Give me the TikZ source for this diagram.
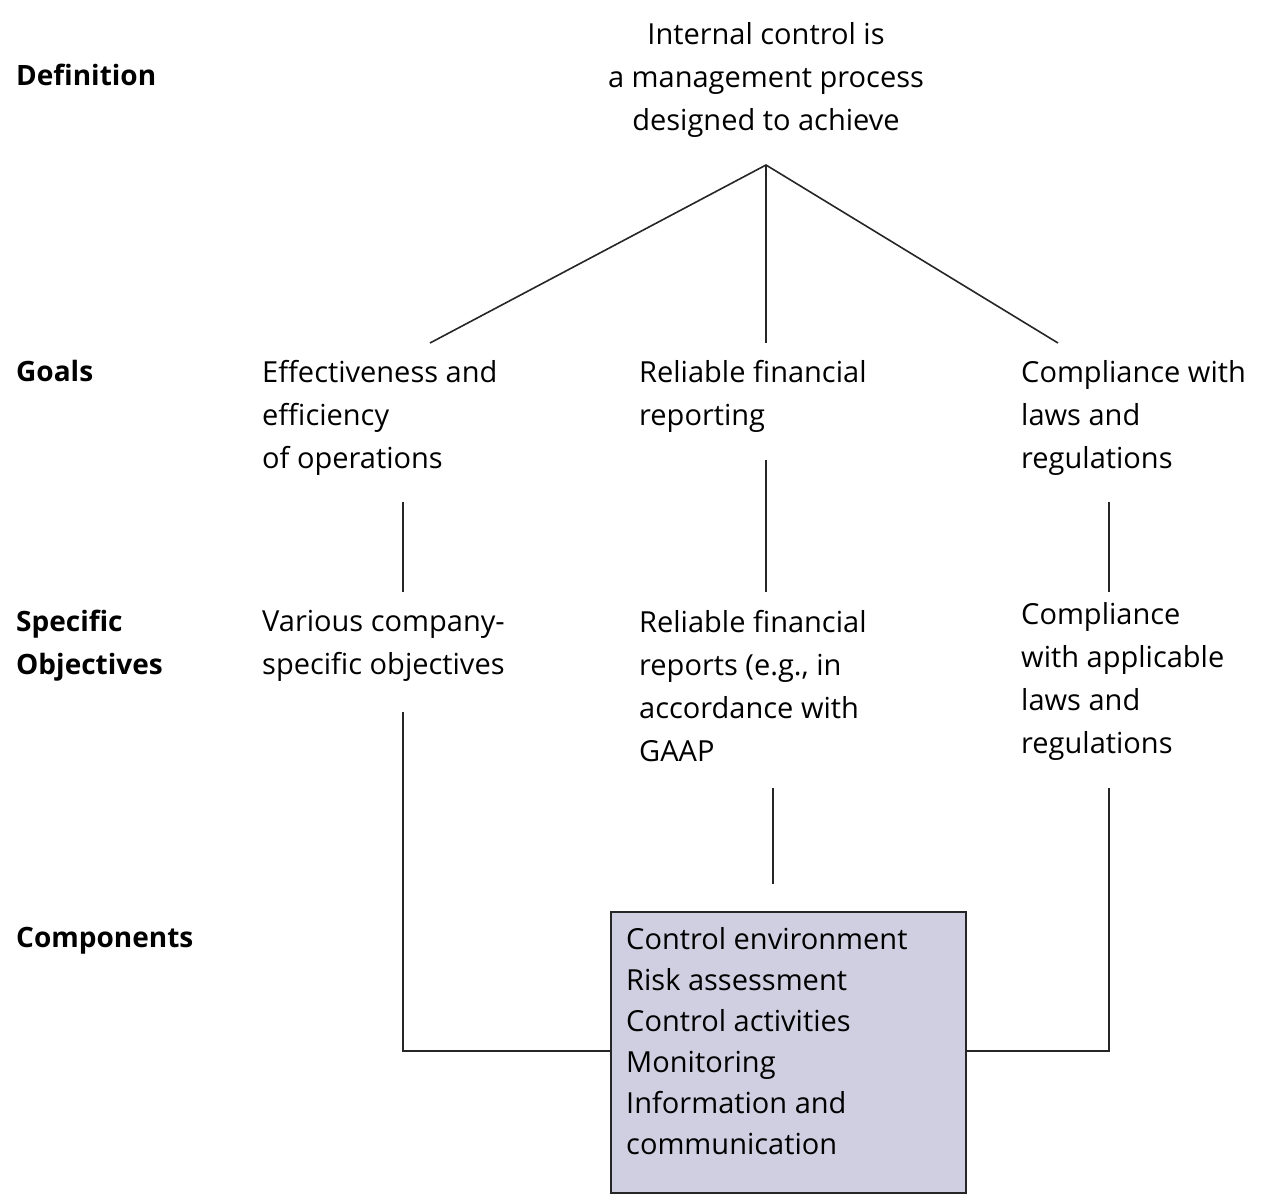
\documentclass[tikz,border=0pt]{standalone}
\usepackage{fontspec}
\setmainfont{Open Sans}
\begin{document}
\begin{tikzpicture}[x=1pt,y=-1pt,
  txt/.style={anchor=north west,inner sep=0pt,align=left,font=\fontsize{29}{43}\selectfont},
  lbl/.style={txt,font=\fontsize{28}{43}\selectfont\bfseries},
  ln/.style={line width=1.6pt,black!85}]
\useasboundingbox (0,0) rectangle (1287,1200);
\node[txt,anchor=north,align=center] (def) at (766,22) {Internal control is\\a management process\\designed to achieve};
\node[lbl] (l1) at (16,64) {Definition};
\node[lbl] (l2) at (16,360) {Goals};
\node[lbl] (l3) at (16,610) {Specific\\Objectives};
\node[lbl] (l4) at (16,927) {Components};
\node[txt] (g1) at (262,360) {Effectiveness and\\efficiency\\of operations};
\node[txt] (g2) at (639,360) {Reliable financial\\reporting};
\node[txt] (g3) at (1021,360) {Compliance with\\laws and\\regulations};
\node[txt] (o1) at (262,610) {Various company-\\specific objectives};
\node[txt] (o2) at (639,610) {Reliable financial\\reports (e.g., in\\accordance with\\GAAP};
\node[txt] (o3) at (1021,602) {Compliance\\with applicable\\laws and\\regulations};
\node[draw,ln,fill={rgb,255:red,208;green,207;blue,226},minimum width=355pt,minimum height=281pt,anchor=north west,inner sep=0pt] (box) at (610,911) {};
\node[txt,font=\fontsize{29}{41}\selectfont] (bt) at (626,927) {Control environment\\Risk assessment\\Control activities\\Monitoring\\Information and\\communication};
\coordinate (top) at (766,165);
\coordinate (a1) at (430,343); \coordinate (a2) at (766,343); \coordinate (a3) at (1058,343);
\draw[ln] (a1) -- (top) -- (a3); \draw[ln] (top) -- (a2);
\coordinate (b1) at (403,502); \coordinate (c1) at (403,592);
\coordinate (b2) at (766,460); \coordinate (c2) at (766,592);
\coordinate (b3) at (1109,502); \coordinate (c3) at (1109,592);
\draw[ln] (b1)--(c1); \draw[ln] (b2)--(c2); \draw[ln] (b3)--(c3);
\coordinate (d1) at (403,712); \coordinate (e1) at (403,1051);
\coordinate (d2) at (773,788); \coordinate (e2) at (773,884);
\coordinate (d3) at (1109,788); \coordinate (e3) at (1109,1051);
\draw[ln] (d1) -- (e1) -- (box.west|-e1);
\draw[ln] (d2) -- (e2);
\draw[ln] (d3) -- (e3) -- (box.east|-e3);
\end{tikzpicture}
\end{document}
